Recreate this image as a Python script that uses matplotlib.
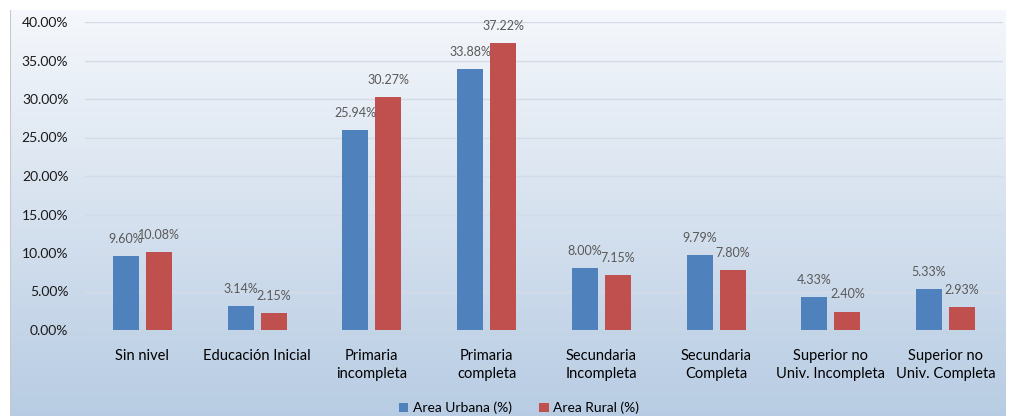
import numpy as np
import matplotlib
matplotlib.use("Agg")
import matplotlib.pyplot as plt
from matplotlib.ticker import FuncFormatter

categories = ["Sin nivel", "Educación Inicial", "Primaria\nincompleta", "Primaria\ncompleta",
              "Secundaria\nIncompleta", "Secundaria\nCompleta", "Superior no\nUniv. Incompleta",
              "Superior no\nUniv. Completa"]
urbana = [9.60, 3.14, 25.94, 33.88, 8.00, 9.79, 4.33, 5.33]
rural = [10.08, 2.15, 30.27, 37.22, 7.15, 7.80, 2.40, 2.93]
series_names = ["Area Urbana (%)", "Area Rural (%)"]

plt.rcParams['font.family'] = ['Lato', 'DejaVu Sans']

W, H = 1011, 416
fig = plt.figure(figsize=(W / 100, H / 100), dpi=100)
fig.patch.set_facecolor('white')

# gradient background
bg = fig.add_axes([10 / W, 0, 996 / W, 406 / H])
bg.set_axis_off()
grad = np.linspace(0, 1, 256).reshape(-1, 1)
top = np.array([0.96, 0.97, 0.985])
bot = np.array([0.72, 0.80, 0.89])
img = top[None, None, :] * (1 - grad[:, :, None]) + bot[None, None, :] * grad[:, :, None]
bg.imshow(img, aspect='auto', extent=[0, 1, 0, 1], origin='upper')
bg.set_xlim(0, 1); bg.set_ylim(0, 1)
bg.plot([0, 0], [0, 1], color='#c8c8c8', lw=1.5)

ax = fig.add_axes([85 / W, (H - 330) / H, 918 / W, 308 / H])
ax.patch.set_alpha(0)
x = np.arange(len(categories))
bw = 0.227
off = 0.144
b1 = ax.bar(x - off, urbana, bw, color='#4f81bd', label=series_names[0], zorder=3)
b2 = ax.bar(x + off, rural, bw, color='#c0504d', label=series_names[1], zorder=3)
for bars, vals in ((b1, urbana), (b2, rural)):
    for b, v in zip(bars, vals):
        ax.annotate(f"{v:.2f}%", (b.get_x() + b.get_width() / 2, v), xytext=(0, 8),
                    textcoords='offset points', ha='center', va='bottom',
                    fontsize=9, color='#595959')

ax.set_xlim(-0.5, len(categories) - 0.5)
ax.set_ylim(0, 40)
ax.set_yticks(np.arange(0, 41, 5))
ax.yaxis.set_major_formatter(FuncFormatter(lambda v, p: f"{v:.2f}%"))
ax.grid(axis='y', color='#d4dbe6', lw=1, zorder=0)
for s in ax.spines.values():
    s.set_visible(False)
ax.tick_params(axis='y', length=0, labelsize=10, labelcolor='#1a1a1a', pad=12)
ax.tick_params(axis='x', length=0, labelsize=10.5, labelcolor='#000000', pad=14)
ax.set_xticks(x)
ax.set_xticklabels(categories, linespacing=1.3)

leg = fig.legend(handles=[b1, b2], labels=series_names, loc='center',
                 bbox_to_anchor=(519 / W, (H - 408) / H), ncol=2, frameon=False,
                 fontsize=10, handlelength=0.7, handleheight=0.7, handletextpad=0.3,
                 columnspacing=2.0)

fig.savefig("out.png", dpi=100)
